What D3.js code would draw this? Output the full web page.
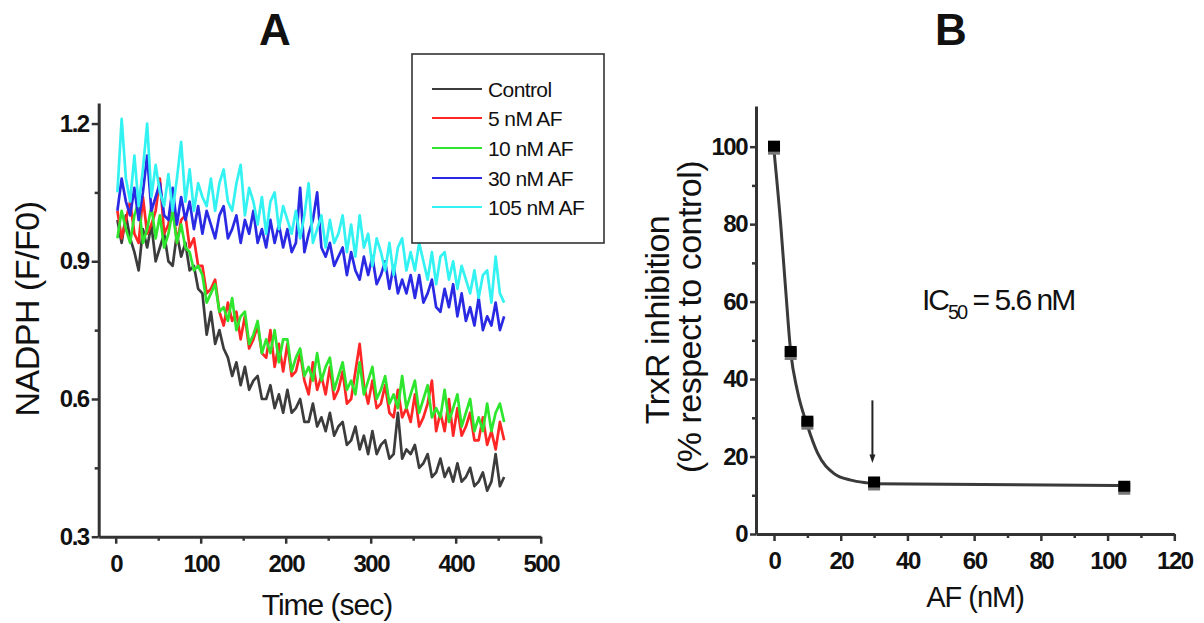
<!DOCTYPE html>
<html><head><meta charset="utf-8">
<script src="https://cdn.jsdelivr.net/npm/d3@7"></script>
<style>
body{margin:0;background:#fff;}
svg{display:block;}
text{font-family:"Liberation Sans",Arial,sans-serif;fill:#111;}
</style></head><body>
<svg id="c" width="1204" height="623"></svg>
<script>
// ---------- Panel A data ----------
const time = [2,7,12,17,22,27,32,37,42,47,52,57,62,67,72,77,82,87,92,97,
  102,107,112,117,122,127,132,137,142,147,152,157,162,167,172,177,182,187,192,197,
  202,207,212,217,222,227,232,237,242,247,252,257,262,267,272,277,282,287,292,297,
  302,307,312,317,322,327,332,337,342,347,352,357,362,367,372,377,382,387,392,397,
  402,407,412,417,422,427,432,437,442,447,452,457];
const control = [0.99,0.94,1.00,0.95,0.92,0.88,0.97,0.93,0.98,0.90,
  0.93,0.96,0.90,0.89,0.96,0.91,0.94,0.88,0.89,0.84,
  0.83,0.74,0.79,0.72,0.75,0.71,0.69,0.65,0.68,0.63,
  0.67,0.62,0.64,0.65,0.60,0.60,0.63,0.58,0.61,0.57,
  0.62,0.57,0.58,0.60,0.55,0.55,0.59,0.54,0.56,0.53,
  0.57,0.52,0.54,0.55,0.50,0.51,0.54,0.49,0.52,0.48,
  0.53,0.48,0.50,0.51,0.47,0.48,0.57,0.47,0.49,0.48,
  0.50,0.45,0.46,0.48,0.43,0.44,0.47,0.43,0.45,0.42,
  0.46,0.42,0.43,0.45,0.41,0.42,0.44,0.40,0.42,0.48,
  0.41,0.43];
const af5 = [1.01,0.95,0.99,1.03,0.96,0.94,1.04,0.96,0.98,1.01,
  1.08,0.96,0.98,1.03,0.94,0.99,1.00,0.93,0.95,0.89,
  0.89,0.83,0.84,0.86,0.79,0.76,0.81,0.77,0.79,0.73,
  0.78,0.71,0.73,0.76,0.70,0.69,0.75,0.67,0.72,0.66,
  0.72,0.65,0.66,0.70,0.64,0.61,0.68,0.62,0.65,0.61,
  0.67,0.60,0.62,0.66,0.59,0.60,0.66,0.72,0.63,0.59,
  0.64,0.58,0.59,0.63,0.57,0.56,0.62,0.56,0.58,0.55,
  0.61,0.54,0.56,0.59,0.64,0.53,0.57,0.53,0.60,0.52,
  0.58,0.52,0.54,0.57,0.51,0.51,0.56,0.50,0.53,0.49,
  0.55,0.51];
const af10 = [0.95,1.01,0.97,0.94,1.00,1.03,0.94,0.97,1.02,0.95,
  1.00,0.93,0.96,1.01,0.94,0.98,0.93,0.92,0.88,0.89,
  0.87,0.81,0.83,0.85,0.79,0.80,0.77,0.82,0.75,0.78,
  0.79,0.72,0.74,0.77,0.70,0.73,0.70,0.75,0.68,0.73,
  0.73,0.66,0.69,0.71,0.65,0.67,0.64,0.70,0.64,0.67,
  0.69,0.62,0.65,0.68,0.62,0.64,0.61,0.68,0.61,0.64,
  0.67,0.60,0.62,0.65,0.59,0.61,0.58,0.65,0.58,0.61,
  0.64,0.57,0.60,0.63,0.56,0.58,0.56,0.62,0.55,0.58,
  0.61,0.54,0.57,0.60,0.53,0.56,0.53,0.59,0.53,0.57,
  0.59,0.55];
const af30 = [1.01,1.08,1.03,1.00,1.06,0.99,1.05,1.13,1.01,1.04,
  1.07,1.00,0.99,1.06,0.98,1.04,0.99,1.03,0.97,1.02,
  0.96,1.01,0.98,0.95,1.00,1.02,0.95,0.97,1.00,0.94,
  0.99,0.96,1.01,0.94,0.97,0.93,0.99,0.94,0.98,0.93,
  0.97,0.92,0.94,1.06,0.92,0.96,0.99,1.05,0.93,0.91,
  0.94,0.89,0.91,0.93,0.87,0.92,0.88,0.86,0.91,0.87,
  0.91,0.85,0.87,0.90,0.84,0.89,0.83,0.86,0.83,0.87,
  0.82,0.87,0.81,0.83,0.86,0.80,0.79,0.84,0.80,0.85,
  0.78,0.83,0.77,0.80,0.76,0.82,0.75,0.78,0.76,0.81,
  0.75,0.78];
const af105 = [1.05,1.21,1.08,1.03,1.13,1.02,1.10,1.20,1.04,1.11,
  1.05,1.02,1.09,1.01,1.08,1.16,1.03,1.10,1.01,1.07,
  1.04,1.02,1.08,1.01,1.07,1.10,1.03,1.01,1.07,1.11,
  1.00,1.06,1.03,0.98,1.04,0.96,1.03,1.05,0.97,1.02,
  0.99,0.96,1.01,0.95,1.00,1.07,0.94,0.97,1.00,0.93,
  0.99,0.94,0.96,1.00,0.92,0.98,0.91,1.00,0.93,0.96,
  0.89,0.95,0.92,0.88,0.94,0.87,0.93,0.95,0.88,0.92,
  0.88,0.94,0.90,0.86,0.92,0.85,0.91,0.92,0.86,0.90,
  0.84,0.89,0.86,0.83,0.88,0.82,0.87,0.88,0.81,0.91,
  0.83,0.81];
const seriesNames = ["Control","5 nM AF","10 nM AF","30 nM AF","105 nM AF"];
const seriesColors = ["#3c3c3c","#ff2626","#2ee62e","#2a2ae4","#33f2f2"];
const xTicksA = [0,100,200,300,400,500];
const xMinorA = [50,150,250,350,450];
const yTicksA = [0.3,0.6,0.9,1.2];
const yMinorA = [0.45,0.75,1.05];

// ---------- Panel B data ----------
const doseAF = [0,5,10,30,105];
const inhibition = [100,47,29,13.3,12.2];
const fitX = [0,2,3.5,5,7,10,13,18,23,28,30,105];
const fitY = [99,80,63,47,37,28,21,15.6,13.9,13.2,13,12.5];
const xTicksB = [0,20,40,60,80,100,120];
const xMinorB = [10,30,50,70,90,110];
const yTicksB = [0,20,40,60,80,100];
const yMinorB = [10,30,50,70,90];

const svg = d3.select("#c");
const axisColor = "#333";

function styleAxis(g, fontSize){
  g.select(".domain").attr("stroke", axisColor).attr("stroke-width", 3);
  g.selectAll(".tick line").attr("stroke", axisColor).attr("stroke-width", 2.5);
  g.selectAll(".tick text").attr("fill","#111")
    .style("font-family",'"Liberation Sans",Arial,sans-serif')
    .style("font-size", fontSize+"px").style("font-weight","bold")
    .style("letter-spacing","-1.5px");
}
function minor(g){
  g.select(".domain").remove();
  g.selectAll(".tick line").attr("stroke", axisColor).attr("stroke-width", 2.5);
}

// ================= Panel A =================
const xA = d3.scaleLinear().domain([-20,500]).range([98.7,540.7]);
const yA = d3.scaleLinear().domain([0.3,1.245]).range([536.7,102.9]);

const seriesA = [control, af5, af10, af30, af105];
const lineA = d3.line().x((d,i)=>xA(time[i])).y(d=>yA(d));
svg.append("g").selectAll("path").data(seriesA).join("path")
  .attr("d", lineA).attr("fill","none")
  .attr("stroke",(d,i)=>seriesColors[i]).attr("stroke-width",2.7)
  .attr("stroke-linejoin","round");

svg.append("g").attr("transform",`translate(0,${yA(0.3)})`)
  .call(d3.axisBottom(xA).tickValues(xMinorA).tickSize(4).tickFormat("")).call(minor);
svg.append("g").attr("transform",`translate(${xA(-20)},0)`)
  .call(d3.axisLeft(yA).tickValues(yMinorA).tickSize(4).tickFormat("")).call(minor);
svg.append("g").attr("transform",`translate(0,${yA(0.3)})`)
  .call(d3.axisBottom(xA).tickValues(xTicksA).tickSize(7).tickSizeOuter(0).tickPadding(11).tickFormat(d3.format("d")))
  .call(g=>styleAxis(g,24));
svg.append("g").attr("transform",`translate(${xA(-20)},0)`)
  .call(d3.axisLeft(yA).tickValues(yTicksA).tickSize(7).tickSizeOuter(0).tickPadding(3).tickFormat(d3.format(".1f")))
  .call(g=>styleAxis(g,24));

// axis titles A
svg.append("text").attr("x",327).attr("y",615).attr("text-anchor","middle")
  .style("font-size","30px").style("letter-spacing","-1px").text("Time (sec)");
svg.append("text").attr("transform","translate(38.5,309) rotate(-90)").attr("text-anchor","middle")
  .style("font-size","34px").style("letter-spacing","-0.5px").text("NADPH (F/F0)");
svg.append("text").attr("x",275).attr("y",45).attr("text-anchor","middle")
  .style("font-size","44px").style("font-weight","bold").text("A");

// legend
const leg = svg.append("g");
leg.append("rect").attr("x",412).attr("y",54).attr("width",192).attr("height",189)
  .attr("fill","#fff").attr("stroke","#333").attr("stroke-width",1.6);
const legRows = [89,118,148,178,207];
const li = leg.selectAll("g.item").data(seriesNames).join("g").attr("class","item")
  .attr("transform",(d,i)=>`translate(0,${legRows[i]})`);
li.append("line").attr("x1",432).attr("x2",482).attr("y1",0).attr("y2",0)
  .attr("stroke",(d,i)=>seriesColors[i]).attr("stroke-width",2.2);
li.append("text").attr("x",488).attr("y",0).attr("dy","0.36em")
  .style("font-size","21px").style("letter-spacing","-0.6px").text(d=>d);

// ================= Panel B =================
const xB = d3.scaleLinear().domain([-5.4,120]).range([756,1174.3]);
const yB = d3.scaleLinear().domain([0,110.5]).range([534,106]);

svg.append("g").attr("transform",`translate(0,${yB(0)})`)
  .call(d3.axisBottom(xB).tickValues(xMinorB).tickSize(4).tickFormat("")).call(minor);
svg.append("g").attr("transform",`translate(${xB(-5.4)},0)`)
  .call(d3.axisLeft(yB).tickValues(yMinorB).tickSize(4).tickFormat("")).call(minor);
svg.append("g").attr("transform",`translate(0,${yB(0)})`)
  .call(d3.axisBottom(xB).tickValues(xTicksB).tickSize(7).tickSizeOuter(0).tickPadding(11))
  .call(g=>styleAxis(g,24));
svg.append("g").attr("transform",`translate(${xB(-5.4)},0)`)
  .call(d3.axisLeft(yB).tickValues(yTicksB).tickSize(6).tickSizeOuter(0).tickPadding(3))
  .call(g=>styleAxis(g,24));

const fitLine = d3.line().x(d=>xB(d[0])).y(d=>yB(d[1])).curve(d3.curveMonotoneX);
svg.append("path").datum(fitX.map((x,i)=>[x,fitY[i]]))
  .attr("d",fitLine).attr("fill","none").attr("stroke","#3a3a3a").attr("stroke-width",3);

const pts = svg.append("g");
pts.selectAll("rect.sh").data(doseAF).join("rect").attr("class","sh")
  .attr("x",(d)=>xB(d)-6).attr("y",(d,i)=>yB(inhibition[i])-4)
  .attr("width",12).attr("height",12).attr("fill","#777");
pts.selectAll("rect.pt").data(doseAF).join("rect").attr("class","pt")
  .attr("x",(d)=>xB(d)-6).attr("y",(d,i)=>yB(inhibition[i])-6)
  .attr("width",12).attr("height",11).attr("fill","#000");

// arrow
const ax = xB(29.5);
svg.append("line").attr("x1",ax).attr("x2",ax).attr("y1",yB(34.5)).attr("y2",yB(20))
  .attr("stroke","#222").attr("stroke-width",2);
svg.append("path").attr("d",`M${ax-3},${yB(20.5)} L${ax+3},${yB(20.5)} L${ax},${yB(18.3)} Z`)
  .attr("fill","#222");

// IC50 label
const ic = svg.append("text").attr("x",922).attr("y",310).style("font-size","30px").style("letter-spacing","-2px");
ic.append("tspan").text("IC");
ic.append("tspan").attr("dy",9).style("font-size","20px").text("50");
ic.append("tspan").attr("dy",-9).text(" = 5.6 nM");

// axis titles B
svg.append("text").attr("x",975).attr("y",607).attr("text-anchor","middle")
  .style("font-size","29px").style("letter-spacing","-1px").text("AF (nM)");
svg.append("text").attr("transform","translate(669,320) rotate(-90)").attr("text-anchor","middle")
  .style("font-size","34px").style("letter-spacing","-0.5px").text("TrxR inhibition");
svg.append("text").attr("transform","translate(701,317) rotate(-90)").attr("text-anchor","middle")
  .style("font-size","34px").style("letter-spacing","-0.5px").text("(% respect to control)");
svg.append("text").attr("x",951).attr("y",45).attr("text-anchor","middle")
  .style("font-size","44px").style("font-weight","bold").text("B");
</script>
</body></html>
